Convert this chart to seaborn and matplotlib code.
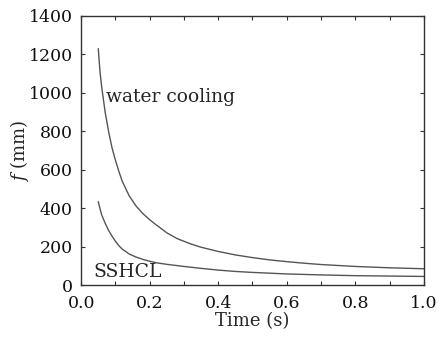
import numpy as np
import pandas as pd
import matplotlib
matplotlib.use("Agg")
import matplotlib.pyplot as plt
import seaborn as sns

# values
time_water = [0.05, 0.055, 0.06, 0.065, 0.07, 0.08, 0.09, 0.10, 0.11, 0.12, 0.14, 0.16,
              0.18, 0.20, 0.22, 0.25, 0.28, 0.32, 0.35, 0.40, 0.45, 0.50, 0.55, 0.60,
              0.65, 0.70, 0.80, 0.90, 1.00]
f_water = [1230, 1110, 1030, 965, 900, 800, 715, 650, 592, 540, 465, 412,
           372, 340, 312, 272, 242, 214, 197, 175, 157, 143, 131, 122,
           114, 107, 97, 90, 85]

time_sshcl = [0.05, 0.055, 0.06, 0.07, 0.075, 0.08, 0.09, 0.10, 0.11, 0.12, 0.14, 0.16,
              0.18, 0.20, 0.22, 0.25, 0.30, 0.35, 0.40, 0.45, 0.50, 0.60, 0.70, 0.80,
              0.90, 1.00]
f_sshcl = [434, 398, 365, 322, 304, 285, 255, 228, 205, 187, 162, 146,
           134, 124, 116, 108, 97, 87, 78, 71, 66, 58, 53, 49,
           47, 45]

df = pd.concat([
    pd.DataFrame({'Time': time_water, 'f': f_water, 'case': 'water cooling'}),
    pd.DataFrame({'Time': time_sshcl, 'f': f_sshcl, 'case': 'SSHCL'}),
])

sns.set_style("ticks")
plt.rcParams['font.family'] = ['DejaVu Serif']
plt.rcParams['mathtext.fontset'] = 'dejavuserif'

fig = plt.figure(figsize=(4.41, 3.39), dpi=100)
ax = fig.add_axes([0.184, 0.159, 0.777, 0.794])
sns.lineplot(data=df, x='Time', y='f', hue='case', palette=['#555555', '#555555'],
             linewidth=1.0, legend=False, ax=ax, sort=False)

ax.set_xlim(0, 1.0)
ax.set_ylim(0, 1400)
ax.set_xticks(np.arange(0, 1.01, 0.2))
ax.set_xticks(np.arange(0.1, 1.0, 0.2), minor=True)
ax.set_yticks(np.arange(0, 1401, 200))
ax.tick_params(which='both', direction='in', top=True, right=True, labelsize=12.5,
               length=3, width=0.8, colors='#333333', labelcolor='#111111')
ax.tick_params(axis='x', which='major', pad=7)
ax.tick_params(axis='y', which='major', pad=6)
for s in ax.spines.values():
    s.set_linewidth(1.0)
    s.set_color('#333333')

ax.set_xlabel('Time (s)', fontsize=13, labelpad=0)
ax.set_ylabel('$f$ (mm)', fontsize=13, labelpad=-2)

ax.text(0.073, 980, 'water cooling', fontsize=13.5, va='center', ha='left')
ax.text(0.037, 68, 'SSHCL', fontsize=13.5, va='center', ha='left')

fig.savefig('out.png', dpi=100)
